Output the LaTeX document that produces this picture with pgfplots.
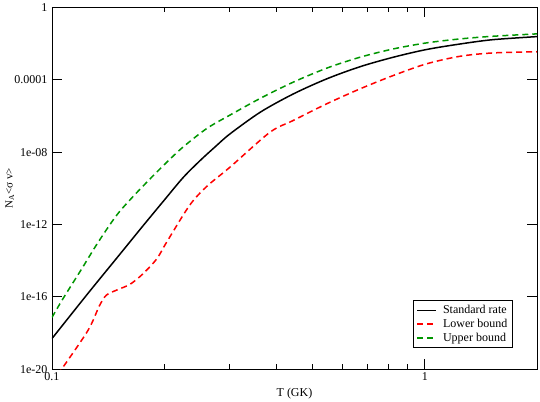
\documentclass[border=0pt]{standalone}
\usepackage{fontspec}
\setmainfont{Liberation Serif}
\usepackage{pgfplots}
\pgfplotsset{compat=1.18}
\definecolor{grgreen}{RGB}{0,150,0}

\begin{document}
\begin{tikzpicture}
\begin{axis}[
  name=ax,
  scale only axis,
  width=485pt,height=362pt,
  xmode=log,ymode=log,
  xmin=0.1,xmax=2,ymin=1e-20,ymax=1,
  xtick={0.1,1},xticklabels={0.1,1},
  minor xtick={0.2,0.3,0.4,0.5,0.6,0.7,0.8,0.9},
  ytick={1e-20,1e-16,1e-12,1e-8,1e-4,1},
  yticklabels={1e-20,1e-16,1e-12,1e-08,0.0001,1},
  yminorticks=false,
  tick align=inside,
  major tick length=10pt,minor tick length=5pt,
  every tick/.style={black,line width=0.8pt},
  axis line style={black,line width=0.8pt},
  tick label style={font=\fontsize{12}{14}\selectfont},
  xticklabel style={yshift=0pt},
  yticklabel style={xshift=-1pt},
  /pgf/number format/assume math mode=true,
  xlabel={T (GK)},
  ylabel={N\textsubscript{A}<σ v>},
  xlabel style={font=\fontsize{12}{14}\selectfont,at={(axis description cs:0.5,-0.066)},anchor=center},
  ylabel style={font=\fontsize{11}{13}\selectfont,at={(axis description cs:-0.087,0.5)},anchor=center},
  legend style={at={(0.95,0.058)},anchor=south east,draw=black,line width=0.8pt,
    font=\fontsize{12}{13}\selectfont,inner xsep=3pt,inner ysep=3pt,row sep=0pt},
  legend cell align=left,
  legend image code/.code={\draw[#1] (0pt,0pt) -- (19pt,0pt); \path (23pt,0pt);},
]
\addplot[black,line width=1.5pt,smooth] coordinates {
  (0.100,5.0e-19) (0.125,1.6e-16) (0.150,1.6e-14) (0.175,7.9e-13)
  (0.200,2.2e-11) (0.225,4.0e-10) (0.250,3.5e-9) (0.275,2.1e-8)
  (0.300,1.0e-7) (0.362,1.6e-6) (0.443,1.6e-5)
  (0.545,1.1e-4) (0.670,5.2e-4) (0.823,1.74e-3) (1.008,4.6e-3)
  (1.24,9.3e-3) (1.52,1.62e-2) (2.0,2.4e-2)
};
\addlegendentry{Standard rate}
\addplot[red,line width=1.5pt,dash pattern=on 6pt off 4pt,smooth] coordinates {
  (0.100,1.8e-21) (0.124,1.1e-18) (0.134,3.2e-17) (0.140,1.26e-16)
  (0.150,2.5e-16) (0.162,5.0e-16) (0.175,1.8e-15) (0.191,1.26e-14)
  (0.203,1.05e-13) (0.234,1.15e-11) (0.260,1.26e-10) (0.300,1.45e-9)
  (0.384,1.23e-7) (0.443,5.5e-7) (0.545,4.6e-6) (0.670,3.1e-5)
  (0.823,1.7e-4) (1.008,7.4e-4) (1.24,1.95e-3) (1.52,3.0e-3) (2.0,3.5e-3)
};
\addlegendentry{Lower bound}
\addplot[grgreen,line width=1.5pt,dash pattern=on 6pt off 4pt,smooth] coordinates {
  (0.100,7.4e-18) (0.107,7.9e-17) (0.120,3.4e-15) (0.133,1.05e-13)
  (0.149,3.2e-12) (0.165,3.5e-11) (0.183,3.2e-10) (0.200,2.0e-9)
  (0.224,1.8e-8) (0.260,2.0e-7) (0.300,1.1e-6) (0.362,9.3e-6)
  (0.443,7.2e-5) (0.545,4.3e-4) (0.670,1.74e-3) (0.823,5.0e-3)
  (1.008,1.07e-2) (1.24,1.78e-2) (1.52,2.5e-2) (2.0,3.4e-2)
};
\addlegendentry{Upper bound}
\end{axis}
\path[use as bounding box] ([shift={(-52pt,-30pt)}]ax.south west) rectangle ([shift={(3pt,5pt)}]ax.north east);
\end{tikzpicture}
\end{document}
